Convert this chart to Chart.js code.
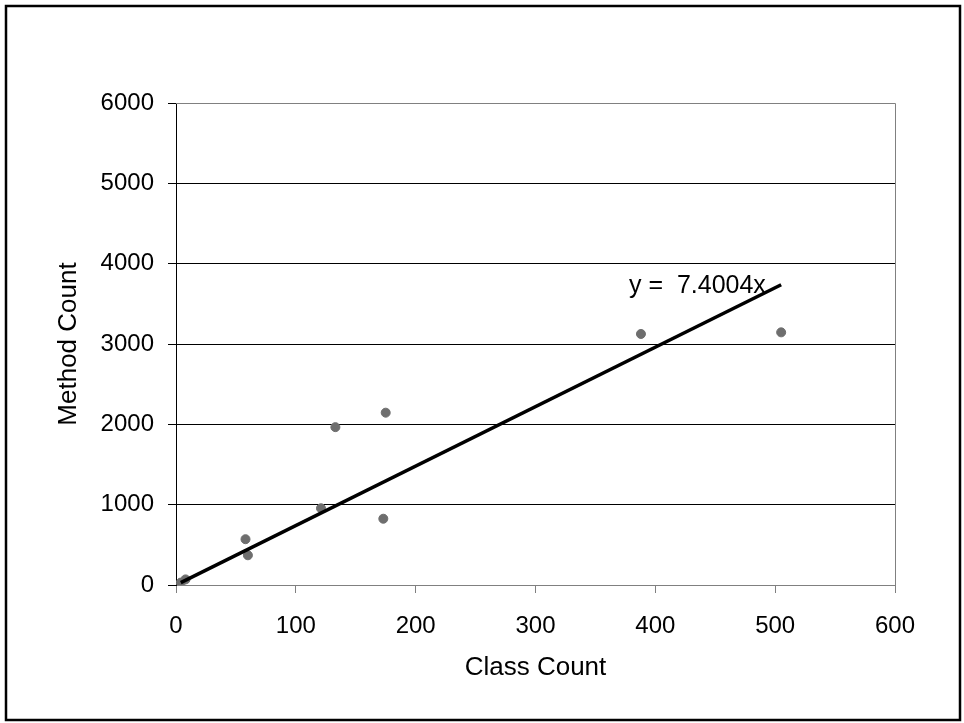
<!DOCTYPE html>
<html>
<head>
<meta charset="utf-8">
<script src="https://cdn.jsdelivr.net/npm/chart.js@4/dist/chart.umd.min.js"></script>
<style>
  html, body { margin: 0; padding: 0; background: #ffffff; }
  #grafico { display: block; }
</style>
</head>
<body>
<canvas id="grafico" width="964" height="723"></canvas>
<script>
// dados
const classCounts = [4, 8, 58, 60, 121, 133, 173, 175, 388, 505];
const methodCounts = [30, 70, 570, 370, 955, 1965, 825, 2145, 3125, 3145];
const slope = 7.4004;
const trendLabel = "y =  7.4004x";
const yTicks = [0, 1000, 2000, 3000, 4000, 5000, 6000];
const xTicks = [0, 100, 200, 300, 400, 500, 600];

const fonte = "'Liberation Sans', Arial, sans-serif";
const cinza = "#808080";

const pontos = classCounts.map((c, i) => ({ x: c, y: methodCounts[i] }));
const xMin = Math.min(...classCounts);
const xMax = Math.max(...classCounts);
const tendencia = [
  { x: xMin, y: xMin * slope },
  { x: xMax, y: xMax * slope }
];

const moldura = {
  id: "moldura",
  afterDraw(chart) {
    const ctx = chart.ctx;
    const a = chart.chartArea;
    ctx.save();
    // borda cinza do gráfico (topo e direita)
    ctx.strokeStyle = cinza;
    ctx.lineWidth = 1;
    ctx.beginPath();
    ctx.moveTo(a.left, a.top + 0.5);
    ctx.lineTo(a.right + 0.5, a.top + 0.5);
    ctx.lineTo(a.right + 0.5, a.bottom);
    ctx.stroke();
    // borda externa
    ctx.strokeStyle = "#000000";
    ctx.lineWidth = 2.5;
    ctx.strokeRect(6, 6, 954, 714);
    // rótulo da linha de tendência
    const xs = chart.scales.x;
    const ys = chart.scales.y;
    ctx.fillStyle = "#000000";
    ctx.font = "25px " + fonte;
    ctx.textAlign = "left";
    ctx.textBaseline = "middle";
    ctx.fillText(trendLabel, xs.getPixelForValue(378), ys.getPixelForValue(3720));
    ctx.restore();
  }
};

new Chart(document.getElementById("grafico"), {
  type: "scatter",
  data: {
    datasets: [
      {
        label: "Tendência",
        type: "line",
        data: tendencia,
        borderColor: "#000000",
        borderWidth: 3.5,
        pointRadius: 0,
        fill: false,
        order: 0
      },
      {
        label: "Method Count",
        data: pontos,
        backgroundColor: "#6e6e6e",
        borderColor: "#6e6e6e",
        pointRadius: 4.5,
        pointHoverRadius: 4.5,
        order: 1
      }
    ]
  },
  options: {
    responsive: false,
    animation: false,
    events: [],
    layout: {
      padding: { left: 53, right: 69, top: 103, bottom: 40 }
    },
    plugins: {
      legend: { display: false },
      tooltip: { enabled: false }
    },
    scales: {
      x: {
        type: "linear",
        min: 0,
        max: 600,
        afterBuildTicks: (s) => { s.ticks = xTicks.map(v => ({ value: v })); },
        afterFit: (s) => { s.height = 98; },
        grid: {
          drawOnChartArea: false,
          drawTicks: true,
          tickLength: 8,
          tickColor: cinza
        },
        border: { display: true, color: cinza, width: 1 },
        ticks: {
          color: "#000000",
          padding: 19,
          maxRotation: 0,
          callback: (v) => String(v),
          font: { family: fonte, size: 24 }
        },
        title: {
          display: true,
          text: "Class Count",
          color: "#000000",
          padding: { top: 2, bottom: 0 },
          font: { family: fonte, size: 26 }
        }
      },
      y: {
        type: "linear",
        min: 0,
        max: 6000,
        afterBuildTicks: (s) => { s.ticks = yTicks.map(v => ({ value: v })); },
        afterFit: (s) => { s.width = 123; },
        grid: {
          color: (c) => (c.tick && (c.tick.value === 0 || c.tick.value === 6000)) ? cinza : "#000000",
          lineWidth: 1,
          drawTicks: true,
          tickLength: 8,
          tickColor: "#000000"
        },
        border: { display: true, color: "#000000", width: 1 },
        ticks: {
          color: "#000000",
          padding: 14,
          callback: (v) => String(v),
          font: { family: fonte, size: 24 }
        },
        title: {
          display: true,
          text: "Method Count",
          color: "#000000",
          padding: { top: 0, bottom: 0 },
          font: { family: fonte, size: 26 }
        }
      }
    }
  },
  plugins: [moldura]
});
</script>
</body>
</html>
